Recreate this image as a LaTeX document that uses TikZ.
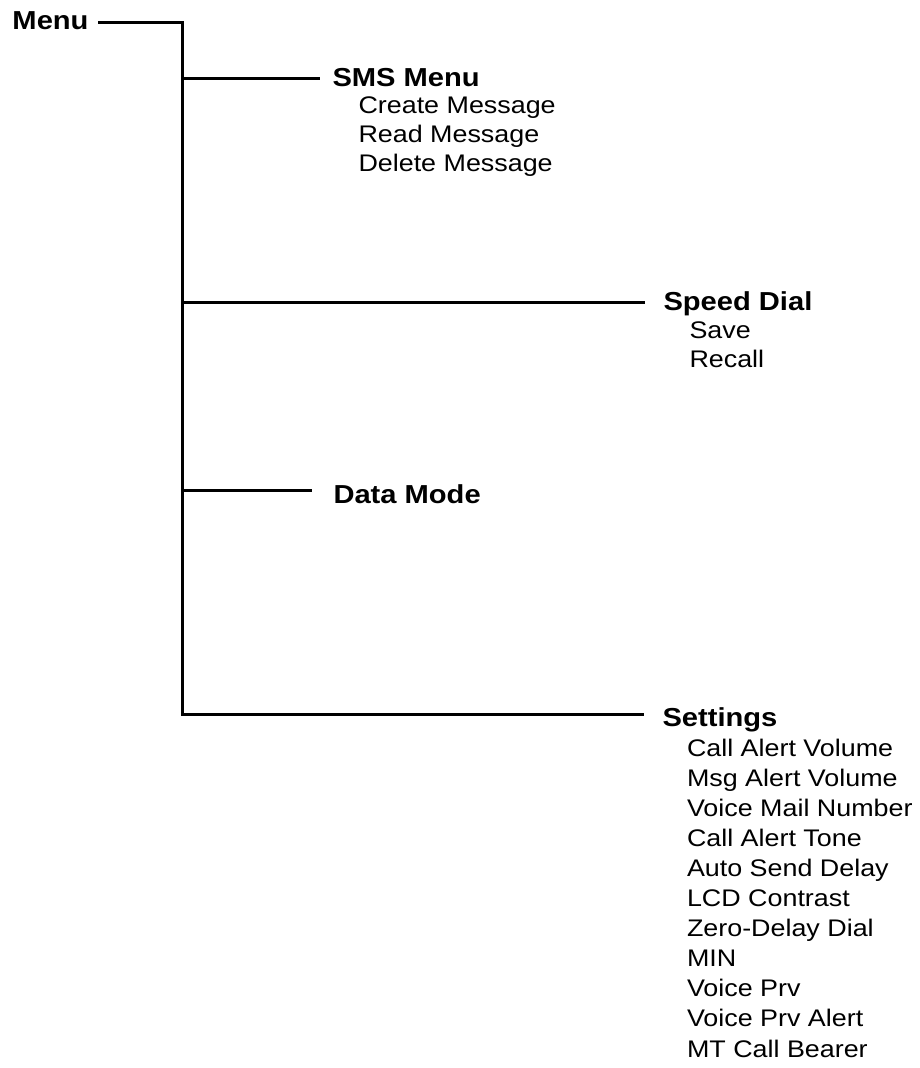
\documentclass[tikz,border=0pt]{standalone}
\usepackage{fontspec}
\setmainfont{Liberation Sans}[FakeStretch=1.12]
\begin{document}
\begin{tikzpicture}[x=1pt,y=-1pt,
  line width=3pt,
  head/.style={anchor=base west,inner sep=0pt,font=\fontsize{26}{30}\selectfont\bfseries},
  item/.style={anchor=base west,inner sep=0pt,font=\fontsize{24}{29}\selectfont}]
\useasboundingbox (0,0) rectangle (920,1068);
% headings
\node[head] (menu) at (11,29) {Menu};
\node[head] (sms) at (331,86) {SMS Menu};
\node[head] (speed) at (662,310) {Speed Dial};
\node[head] (data) at (332,503) {Data Mode};
\node[head] (settings) at (661,726) {Settings};
% trunk junctions
\coordinate (t0) at (182,22);
\coordinate (t1) at (182,78);
\coordinate (t2) at (182,302);
\coordinate (t3) at (182,490);
\coordinate (t4) at (182,714);
% connectors
\draw ([xshift=8pt]menu.east |- t0) -- (t0) -- (t4) -- ([xshift=-17pt]settings.west |- t4);
\draw (t1) -- ([xshift=-11pt]sms.west |- t1);
\draw (t2) -- ([xshift=-17pt]speed.west |- t2);
\draw (t3) -- ([xshift=-20pt]data.west |- t3);
% SMS items
\node[item] (s1) at (357,113) {Create Message};
\node[item] (s2) at (357,142) {Read Message};
\node[item] (s3) at (357,171) {Delete Message};
% Speed dial items
\node[item] (d1) at (688,338) {Save};
\node[item] (d2) at (688,367) {Recall};
% Settings items
\foreach \t [count=\i from 0] in {Call Alert Volume,Msg Alert Volume,Voice Mail Number,Call Alert Tone,Auto Send Delay,LCD Contrast,Zero-Delay Dial,MIN,Voice Prv,Voice Prv Alert,MT Call Bearer}
  \node[item] (g\i) at (685.5,756+30.1*\i) {\t};
\end{tikzpicture}
\end{document}
